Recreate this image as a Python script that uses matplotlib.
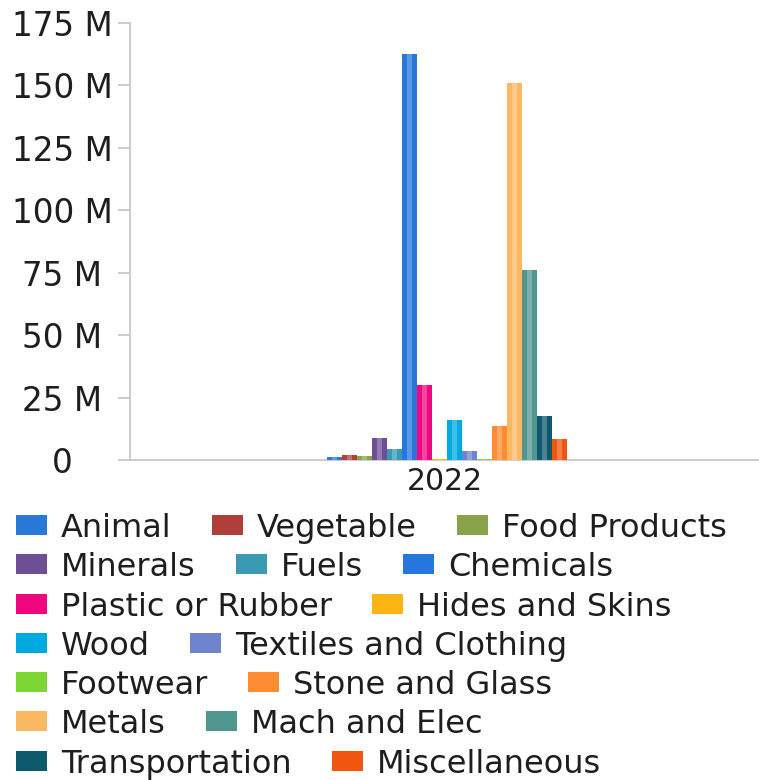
import matplotlib
matplotlib.use('Agg')
import matplotlib.pyplot as plt
from matplotlib.patches import Rectangle
from matplotlib.ticker import FuncFormatter, MultipleLocator

# data (values in millions)
year = '2022'
sectors = ['Animal', 'Vegetable', 'Food Products', 'Minerals', 'Fuels', 'Chemicals',
           'Plastic or Rubber', 'Hides and Skins', 'Wood', 'Textiles and Clothing',
           'Footwear', 'Stone and Glass', 'Metals', 'Mach and Elec', 'Transportation',
           'Miscellaneous']
values_m = [1.2, 2.0, 1.7, 8.8, 4.4, 162.5, 30.2, 0.6, 16.1, 3.6, 0.6, 13.7, 150.8, 76.0, 17.7, 8.3]
colors = ['#2a78d8', '#b03f3b', '#88a34a', '#6e4f96', '#3a99b3', '#2676de',
          '#f0077f', '#fdb515', '#00a9e0', '#6f84cc', '#7ed634', '#fd8c33',
          '#fbb862', '#51978f', '#0d5a6f', '#f0560f']
legend_rows = [[0, 1, 2], [3, 4, 5], [6, 7], [8, 9], [10, 11], [12, 13], [14, 15]]

W, H = 759, 780
fig = plt.figure(figsize=(W / 100, H / 100), dpi=100)
ax = fig.add_axes([130 / W, 1 - 460 / H, 1 - 130 / W, (460 - 23) / H])

n = len(sectors)
group_w = 0.382
bw = group_w / n
xs = [0.004 - group_w / 2 + bw * (i + 0.5) for i in range(n)]
vals = [v * 1e6 for v in values_m]
ax.bar(xs, vals, width=bw * 0.97, color=colors, edgecolor='none', zorder=3, clip_on=False)
# glossy highlight in the middle of each bar
ax.bar(xs, vals, width=bw * 0.3, color='white', alpha=0.25, linewidth=0, zorder=4, clip_on=False)

ax.set_xlim(-0.5, 0.5)
ax.set_ylim(0, 175e6)
ax.yaxis.set_major_locator(MultipleLocator(25e6))
ax.yaxis.set_major_formatter(FuncFormatter(lambda v, p: '0' if v == 0 else f'{v / 1e6:.0f} M'))
ax.set_xticks([0])
ax.set_xticklabels([year])

for s in ['top', 'right']:
    ax.spines[s].set_visible(False)
for s in ['left', 'bottom']:
    ax.spines[s].set_color('#c8c8c8')
    ax.spines[s].set_linewidth(1.3)
    ax.spines[s].set_zorder(2)

ax.tick_params(axis='y', length=8.6, width=1.3, color='#c8c8c8', pad=40.3,
               labelsize=23.5, labelcolor='#1e1e1e')
ax.tick_params(axis='x', length=0, pad=5, labelsize=21.5, labelcolor='#1e1e1e')
for lab in ax.get_yticklabels():
    lab.set_horizontalalignment('center')

# legend laid out in flowing rows
fig.canvas.draw()
renderer = fig.canvas.get_renderer()
row_y = 525
for row in legend_rows:
    x = 16
    for i in row:
        fig.patches.append(Rectangle((x / W, 1 - (row_y + 10) / H), 31 / W, 20 / H,
                                     transform=fig.transFigure, facecolor=colors[i],
                                     edgecolor='none'))
        t = fig.text((x + 45) / W, 1 - row_y / H, sectors[i], fontsize=23,
                     color='#1e1e1e', va='center_baseline', ha='left')
        bb = t.get_window_extent(renderer)
        x = bb.x1 + 40
    row_y += 39.3

fig.savefig('out.png', dpi=100)
